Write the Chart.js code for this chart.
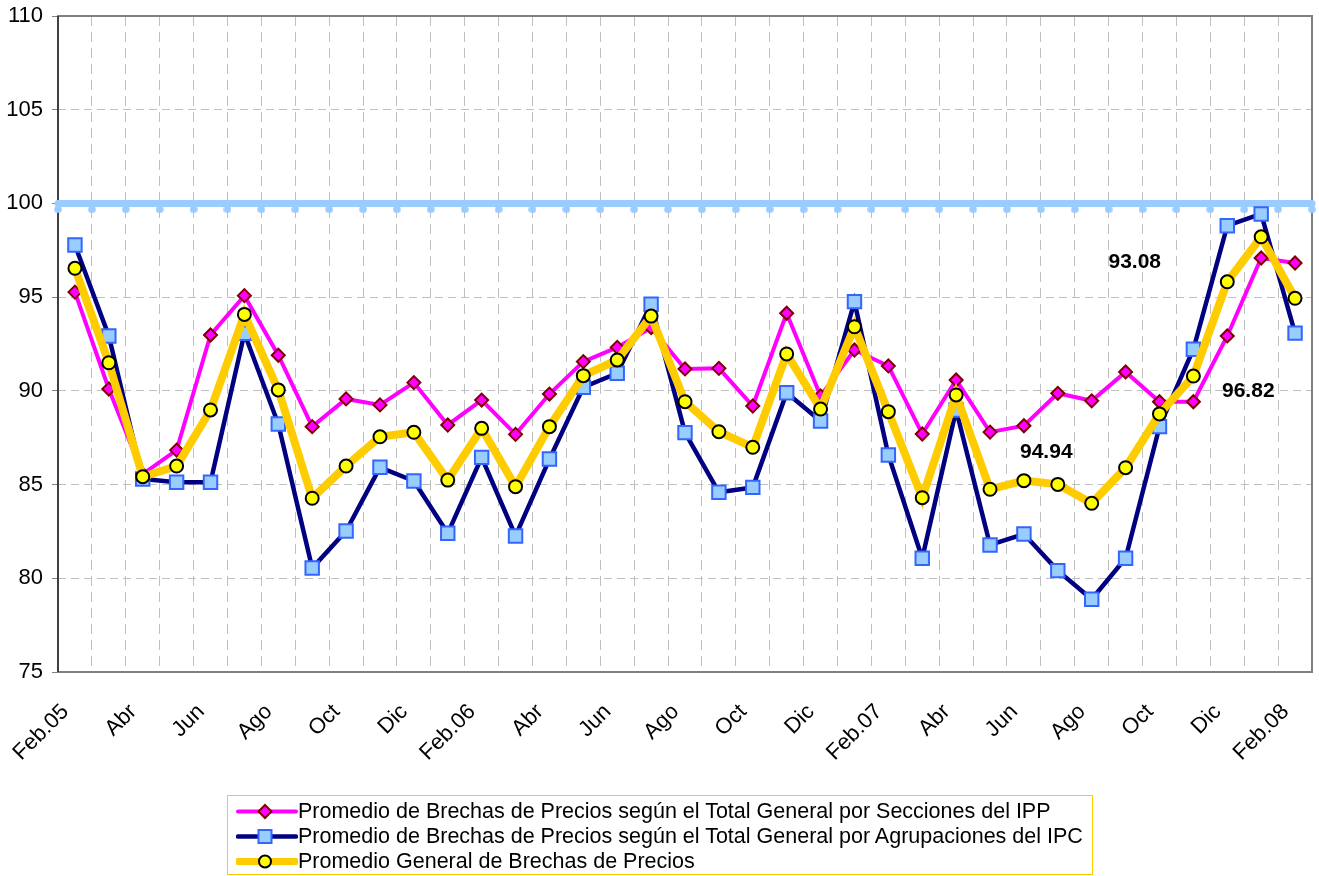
<!DOCTYPE html>
<html>
<head>
<meta charset="utf-8">
<script src="https://cdn.jsdelivr.net/npm/chart.js@4/dist/chart.umd.min.js"></script>
<style>
html,body{margin:0;padding:0;background:#fff;}
#wrap{position:relative;width:1319px;height:876px;overflow:hidden;}
#c{position:absolute;left:0;top:0;}
#legend{position:absolute;left:227px;top:795px;width:866px;height:80px;border:1px solid #FFCC00;box-sizing:border-box;font-family:"Liberation Sans",Arial,sans-serif;font-size:21.5px;color:#000;}
.row{position:absolute;left:0;height:25px;width:100%;}
.row svg{position:absolute;left:8px;top:0;}
.row span{position:absolute;left:70px;top:0;line-height:25px;white-space:nowrap;}
</style>
</head>
<body>
<div id="wrap">
<canvas id="c" width="1319" height="876"></canvas>
<div id="legend"></div>
</div>
<script>
const months = ['Feb.05','Mar','Abr','May','Jun','Jul','Ago','Sep','Oct','Nov','Dic','Ene',
  'Feb.06','Mar','Abr','May','Jun','Jul','Ago','Sep','Oct','Nov','Dic','Ene',
  'Feb.07','Mar','Abr','May','Jun','Jul','Ago','Sep','Oct','Nov','Dic','Ene','Feb.08'];

const seriesNames = [
  'Promedio de Brechas de Precios según el Total General por Secciones del IPP',
  'Promedio de Brechas de Precios según el Total General por Agrupaciones del IPC',
  'Promedio General de Brechas de Precios'
];

const ippValues = [95.27, 90.10, 85.56, 86.84, 92.98, 95.08, 91.90, 88.09, 89.57, 89.25, 90.44, 88.18,
  89.51, 87.68, 89.83, 91.56, 92.32, 93.37, 91.17, 91.20, 89.19, 94.14, 89.73, 92.18,
  91.33, 87.70, 90.58, 87.80, 88.14, 89.87, 89.47, 91.01, 89.42, 89.42, 92.93, 97.09, 96.82];

const ipcValues = [97.78, 92.93, 85.30, 85.12, 85.12, 93.07, 88.23, 80.55, 82.52, 85.92, 85.19, 82.40,
  86.45, 82.26, 86.36, 90.19, 90.94, 94.62, 87.77, 84.59, 84.85, 89.90, 88.39, 94.76,
  86.58, 81.07, 88.98, 81.78, 82.36, 80.41, 78.88, 81.07, 88.09, 92.22, 98.81, 99.44, 93.08];

const generalValues = [96.54, 91.50, 85.42, 85.99, 88.98, 94.08, 90.05, 84.27, 85.99, 87.55, 87.79, 85.24,
  88.00, 84.89, 88.09, 90.81, 91.65, 93.99, 89.42, 87.82, 86.99, 91.97, 89.03, 93.42,
  88.89, 84.30, 89.78, 84.75, 85.21, 85.01, 84.00, 85.90, 88.77, 90.79, 95.82, 98.22, 94.94];

const referenceValue = 100;

const yTicks = [75, 80, 85, 90, 95, 100, 105, 110];

// free-floating data labels (text, category position, value position)
const noteTexts = ['93.08', '94.94', '96.82'];
const noteIndex = [31.27, 28.66, 34.62];
const noteValue = [96.89, 86.75, 89.96];

const FONT = '"Liberation Sans", Arial, sans-serif';

// reference-line dot: drawn slightly below the line
const dot = document.createElement('canvas');
dot.width = 8; dot.height = 20;
(function(){ const g = dot.getContext('2d'); g.fillStyle = '#99CCFF'; g.beginPath(); g.arc(4, 16, 3.8, 0, Math.PI*2); g.fill(); })();

const refData = [];
for (let k = 0; k <= months.length; k++) refData.push({x: k, y: referenceValue});

const framePlugin = {
  id: 'frame',
  beforeDatasetsDraw(chart) {
    const {ctx, chartArea: a} = chart;
    ctx.save();
    ctx.strokeStyle = '#808080';
    ctx.lineWidth = 2;
    ctx.strokeRect(a.left, a.top, a.right - a.left, a.bottom - a.top);
    ctx.strokeStyle = '#404040';
    ctx.beginPath(); ctx.moveTo(a.left, a.top); ctx.lineTo(a.left, a.bottom); ctx.stroke();
    ctx.restore();
  }
};

const notesPlugin = {
  id: 'notes',
  afterDatasetsDraw(chart) {
    const {ctx} = chart;
    const xs = chart.scales.x, ys = chart.scales.y;
    ctx.save();
    ctx.font = 'bold 21px ' + FONT;
    ctx.fillStyle = '#000';
    ctx.textAlign = 'center';
    ctx.textBaseline = 'middle';
    noteTexts.forEach((t, i) => {
      ctx.fillText(t, xs.getPixelForValue(noteIndex[i]), ys.getPixelForValue(noteValue[i]));
    });
    ctx.restore();
  }
};

new Chart(document.getElementById('c'), {
  type: 'line',
  data: {
    labels: months,
    datasets: [
      {
        label: seriesNames[0], data: ippValues, order: 1,
        borderColor: '#FF00FF', borderWidth: 4, tension: 0,
        pointStyle: 'rectRot', pointRadius: 6.5,
        pointBackgroundColor: '#FF00FF', pointBorderColor: '#800000', pointBorderWidth: 2
      },
      {
        label: seriesNames[1], data: ipcValues, order: 2,
        borderColor: '#000080', borderWidth: 4.5, tension: 0,
        pointStyle: 'rect', pointRadius: 9.5,
        pointBackgroundColor: '#99CCFF', pointBorderColor: '#3366FF', pointBorderWidth: 2
      },
      {
        label: seriesNames[2], data: generalValues, order: 0,
        borderColor: '#FFCC00', borderWidth: 8, tension: 0,
        pointStyle: 'circle', pointRadius: 6.5,
        pointBackgroundColor: '#FFFF00', pointBorderColor: '#000000', pointBorderWidth: 2
      },
      {
        label: 'ref', data: refData, order: 3, xAxisID: 'x2',
        borderColor: '#99CCFF', borderWidth: 7, borderCapStyle: 'round',
        pointStyle: dot, pointRadius: 4, clip: 10
      }
    ]
  },
  options: {
    responsive: false,
    animation: false,
    devicePixelRatio: 1,
    layout: { autoPadding: false, padding: { left: 0, top: 16, right: 7, bottom: 0 } },
    plugins: { legend: { display: false }, tooltip: { enabled: false } },
    scales: {
      x: {
        type: 'category',
        offset: true,
        grid: { offset: true, color: '#C0C0C0', lineWidth: 1, borderDash: [10, 6], drawTicks: false },
        border: { display: false, dash: [10, 6] },
        ticks: {
          autoSkip: false, minRotation: 45, maxRotation: 45, padding: 27, labelOffset: -9.5,
          color: '#000', font: { family: FONT, size: 22 },
          callback: (v, i) => (i % 2 === 0 ? months[i] : '')
        },
        afterFit: s => { s.height = 204; s.paddingLeft = 0; s.paddingRight = 0; }
      },
      x2: {
        type: 'linear', display: false, min: 0, max: months.length, offset: false
      },
      y: {
        min: yTicks[0], max: yTicks[yTicks.length - 1],
        afterBuildTicks: s => { s.ticks = yTicks.map(v => ({value: v})); },
        grid: { color: '#C0C0C0', lineWidth: 1, borderDash: [8, 5], drawTicks: true, tickLength: 6,
                tickColor: '#808080', tickBorderDash: [], tickWidth: 1 },
        border: { display: false, dash: [8, 5] },
        ticks: { padding: 9, color: '#000', font: { family: FONT, size: 22 } },
        afterFit: s => { s.width = 58; s.paddingTop = 0; s.paddingBottom = 0; }
      }
    }
  },
  plugins: [framePlugin, notesPlugin]
});

// HTML legend
const legendStyles = [
  { line: '#FF00FF', lw: 4, marker: 'diamond', fill: '#FF00FF', stroke: '#800000' },
  { line: '#000080', lw: 4.5, marker: 'square', fill: '#99CCFF', stroke: '#3366FF' },
  { line: '#FFCC00', lw: 7, marker: 'circle', fill: '#FFFF00', stroke: '#000000' }
];
const legend = document.getElementById('legend');
seriesNames.forEach((name, i) => {
  const st = legendStyles[i];
  const row = document.createElement('div');
  row.className = 'row';
  row.style.top = (2.5 + i * 25) + 'px';
  let m = '';
  if (st.marker === 'diamond') m = `<polygon points="29,6 35.5,12.5 29,19 22.5,12.5" fill="${st.fill}" stroke="${st.stroke}" stroke-width="2"/>`;
  if (st.marker === 'square') m = `<rect x="22.5" y="6" width="13" height="13" fill="${st.fill}" stroke="${st.stroke}" stroke-width="2"/>`;
  if (st.marker === 'circle') m = `<circle cx="29" cy="12.5" r="6" fill="${st.fill}" stroke="${st.stroke}" stroke-width="2"/>`;
  row.innerHTML = `<svg width="62" height="25"><line x1="2" y1="12.5" x2="60" y2="12.5" stroke="${st.line}" stroke-width="${st.lw}" stroke-linecap="round"/>${m}</svg><span>${name}</span>`;
  legend.appendChild(row);
});
</script>
</body>
</html>
